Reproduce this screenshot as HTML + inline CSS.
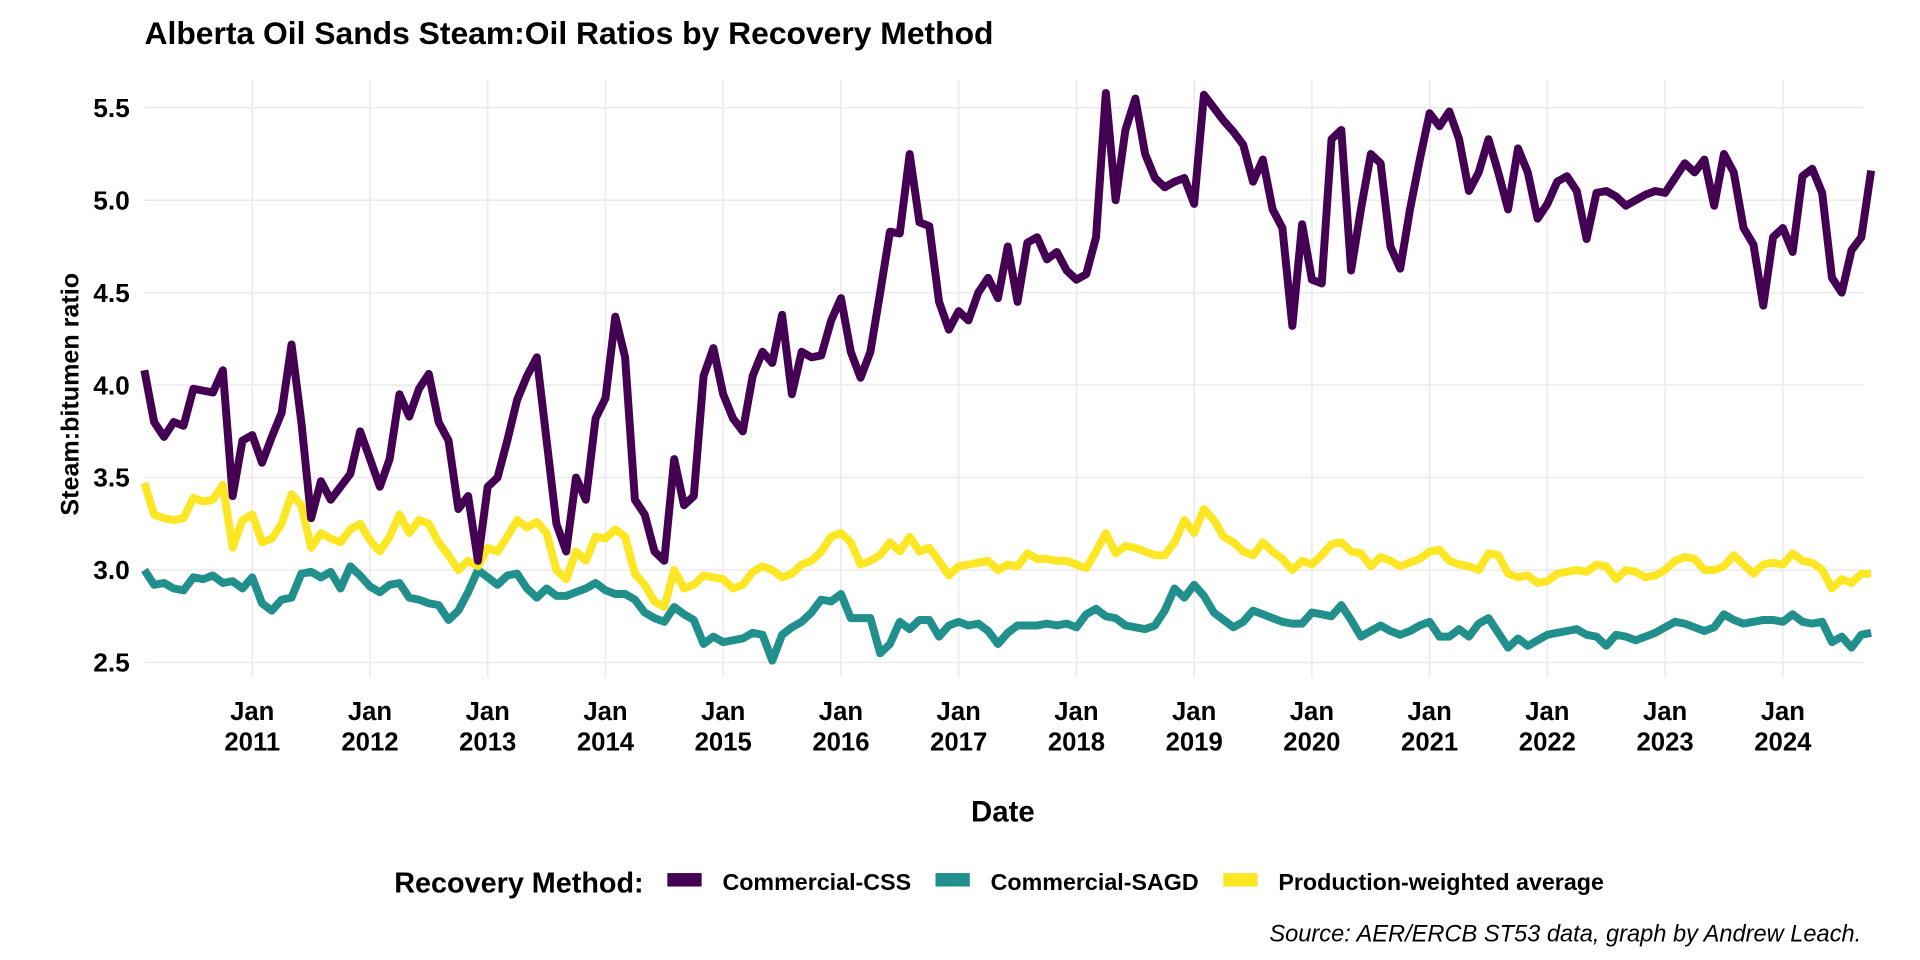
<!DOCTYPE html>
<html><head><meta charset="utf-8"><style>
html,body{margin:0;padding:0;background:#fff;}
svg{display:block;font-family:"Liberation Sans",Arial,sans-serif;}
</style></head><body>
<svg id="chart" width="1920" height="960" viewBox="0 0 1568 784" xmlns="http://www.w3.org/2000/svg">
<rect width="1568" height="784" fill="#fff"/>
<text x="118" y="36" font-size="26" font-weight="bold" fill="#000">Alberta Oil Sands Steam:Oil Ratios by Recovery Method</text>
<g id="grid"></g>
<g id="yticks"></g>
<g id="xticks"></g>
<g id="series"></g>
<text transform="translate(64,322) rotate(-90)" text-anchor="middle" font-size="20.5" font-weight="bold">Steam:bitumen ratio</text>
<text x="819" y="671" text-anchor="middle" font-size="24" font-weight="bold">Date</text>
<g>
<text x="322" y="729" font-size="23.5" font-weight="bold">Recovery Method:</text>
<rect x="545" y="713" width="28" height="11" fill="#440154"/>
<text x="590" y="727" font-size="19" font-weight="bold">Commercial-CSS</text>
<rect x="764" y="713" width="28" height="11" fill="#21908C"/>
<text x="809" y="727" font-size="19" font-weight="bold">Commercial-SAGD</text>
<rect x="999" y="713" width="28" height="11" fill="#FDE725"/>
<text x="1044" y="727" font-size="19" font-weight="bold">Production-weighted average</text>
</g>
<text x="1520" y="769" text-anchor="end" font-size="19.3" font-style="italic">Source: AER/ERCB ST53 data, graph by Andrew Leach.</text>
</svg>
<script>
const startYear = 2010, startMonth = 2;
const yTicks = [2.5, 3.0, 3.5, 4.0, 4.5, 5.0, 5.5];
const yTickLabels = ["2.5","3.0","3.5","4.0","4.5","5.0","5.5"];
const xTickYears = [2011,2012,2013,2014,2015,2016,2017,2018,2019,2020,2021,2022,2023,2024];
const cssValues = [4.08,3.8,3.72,3.8,3.78,3.98,3.97,3.96,4.08,3.4,3.7,
3.73,3.58,3.72,3.85,4.22,3.8,3.28,3.48,3.38,3.45,3.52,3.75,
3.6,3.45,3.6,3.95,3.83,3.98,4.06,3.8,3.7,3.33,3.4,3.05,
3.45,3.5,3.7,3.92,4.05,4.15,3.7,3.25,3.1,3.5,3.38,3.82,
3.93,4.37,4.15,3.38,3.3,3.1,3.05,3.6,3.35,3.4,4.05,4.2,
3.95,3.82,3.75,4.05,4.18,4.12,4.38,3.95,4.18,4.15,4.16,4.35,
4.47,4.18,4.04,4.18,4.5,4.83,4.82,5.25,4.88,4.86,4.45,4.3,
4.4,4.35,4.5,4.58,4.47,4.75,4.45,4.77,4.8,4.68,4.72,4.62,
4.57,4.6,4.8,5.58,5.0,5.38,5.55,5.25,5.12,5.07,5.1,5.12,
4.98,5.57,5.5,5.43,5.37,5.3,5.1,5.22,4.95,4.85,4.32,4.87,
4.57,4.55,5.33,5.38,4.62,4.95,5.25,5.2,4.75,4.63,4.95,5.22,
5.47,5.4,5.48,5.33,5.05,5.15,5.33,5.15,4.95,5.28,5.15,4.9,
4.98,5.1,5.13,5.05,4.79,5.04,5.05,5.02,4.97,5.0,5.03,5.05,
5.04,5.12,5.2,5.15,5.22,4.97,5.25,5.15,4.85,4.76,4.43,4.8,
4.85,4.72,5.13,5.17,5.04,4.58,4.5,4.73,4.8,5.16];
const sagdValues = [3.0,2.92,2.93,2.9,2.89,2.96,2.95,2.97,2.93,2.94,2.9,
2.96,2.82,2.78,2.84,2.85,2.98,2.99,2.96,2.99,2.9,3.02,2.97,
2.91,2.88,2.92,2.93,2.85,2.84,2.82,2.81,2.73,2.78,2.88,3.0,
2.96,2.92,2.97,2.98,2.9,2.85,2.9,2.86,2.86,2.88,2.9,2.93,
2.89,2.87,2.87,2.84,2.77,2.74,2.72,2.8,2.76,2.73,2.6,2.64,
2.61,2.62,2.63,2.66,2.65,2.51,2.65,2.69,2.72,2.77,2.84,2.83,
2.87,2.74,2.74,2.74,2.55,2.6,2.72,2.68,2.73,2.73,2.64,2.7,
2.72,2.7,2.71,2.67,2.6,2.66,2.7,2.7,2.7,2.71,2.7,2.71,
2.69,2.76,2.79,2.75,2.74,2.7,2.69,2.68,2.7,2.78,2.9,2.85,
2.92,2.86,2.77,2.73,2.69,2.72,2.78,2.76,2.74,2.72,2.71,2.71,
2.77,2.76,2.75,2.81,2.73,2.64,2.67,2.7,2.67,2.65,2.67,2.7,
2.72,2.64,2.64,2.68,2.64,2.71,2.74,2.66,2.58,2.63,2.59,2.62,
2.65,2.66,2.67,2.68,2.65,2.64,2.59,2.65,2.64,2.62,2.64,2.66,
2.69,2.72,2.71,2.69,2.67,2.69,2.76,2.73,2.71,2.72,2.73,2.73,
2.72,2.76,2.72,2.71,2.72,2.61,2.64,2.58,2.65,2.66];
const avgValues = [3.47,3.3,3.28,3.27,3.28,3.39,3.37,3.38,3.46,3.12,3.27,
3.3,3.15,3.17,3.25,3.41,3.35,3.12,3.2,3.17,3.15,3.22,3.25,
3.16,3.1,3.18,3.3,3.2,3.27,3.25,3.15,3.08,3.0,3.05,3.02,
3.12,3.1,3.18,3.27,3.23,3.26,3.2,3.0,2.95,3.1,3.05,3.18,
3.17,3.22,3.18,2.98,2.92,2.83,2.8,3.0,2.9,2.92,2.97,2.96,
2.95,2.9,2.92,2.99,3.02,3.0,2.96,2.98,3.03,3.05,3.1,3.18,
3.2,3.15,3.03,3.05,3.08,3.15,3.1,3.18,3.1,3.12,3.05,2.97,
3.02,3.03,3.04,3.05,3.0,3.03,3.02,3.09,3.06,3.06,3.05,3.05,
3.03,3.01,3.1,3.2,3.09,3.13,3.12,3.1,3.08,3.08,3.15,3.27,
3.2,3.33,3.27,3.18,3.15,3.1,3.08,3.15,3.1,3.06,3.0,3.05,
3.03,3.08,3.14,3.15,3.1,3.09,3.02,3.07,3.05,3.02,3.04,3.06,
3.1,3.11,3.05,3.03,3.02,3.0,3.09,3.08,2.98,2.96,2.97,2.93,
2.94,2.98,2.99,3.0,2.99,3.03,3.02,2.95,3.0,2.99,2.96,2.97,
3.0,3.05,3.07,3.06,3.0,3.0,3.02,3.08,3.03,2.98,3.03,3.04,
3.03,3.09,3.05,3.04,3.0,2.9,2.95,2.93,2.98,2.98];

const NS = "http://www.w3.org/2000/svg";
const plotL = 118, plotR = 1522, plotT = 65, plotB = 553;
function xScale(yearFrac){ return 206 + (yearFrac - 2011) * (1250/13); }
function yScale(v){ return 541 - (v - 2.5) * (453/3); }
function idxYear(i){ return startYear + (startMonth - 1 + i)/12; }
function mk(tag, attrs, parent){ const e = document.createElementNS(NS, tag); for (const k in attrs) e.setAttribute(k, attrs[k]); parent.appendChild(e); return e; }

const grid = document.getElementById('grid');
const yt = document.getElementById('yticks');
yTicks.forEach((t, i) => {
  const l = mk('line', {x1: plotL, x2: plotR, y1: yScale(t), y2: yScale(t), stroke: '#ebebeb', 'stroke-width': 1.3}, grid);
  
  
  const tx = mk('text', {x: 106, y: yScale(t) + 7.5, 'text-anchor': 'end', 'font-size': 21.5, 'font-weight': 'bold'}, yt);
  tx.textContent = yTickLabels[i];
  
  
});
const xt = document.getElementById('xticks');
xTickYears.forEach(y => {
  const x = xScale(y);
  const l = mk('line', {x1: x, x2: x, y1: plotT, y2: plotB, stroke: '#ebebeb', 'stroke-width': 1.3}, grid);
  
  
  const t1 = mk('text', {x: x, y: 588, 'text-anchor': 'middle', 'font-size': 21, 'font-weight': 'bold'}, xt);
  t1.textContent = 'Jan';
  
  
  const t2 = mk('text', {x: x, y: 613, 'text-anchor': 'middle', 'font-size': 21, 'font-weight': 'bold'}, xt);
  t2.textContent = String(y);
  
  
});
const series = document.getElementById('series');
[[sagdValues, '#21908C', 'line-commercial-sagd'], [avgValues, '#FDE725', 'line-production-weighted-average'], [cssValues, '#440154', 'line-commercial-css']].forEach(([vals, col, name]) => {
  const d = vals.map((v, i) => (i ? 'L' : 'M') + xScale(idxYear(i)).toFixed(1) + ',' + yScale(v).toFixed(1)).join(' ');
  const p = mk('path', {d: d, fill: 'none', stroke: col, 'stroke-width': 6.5, 'stroke-linejoin': 'round'}, series);
  
  
});
</script>
</body></html>
